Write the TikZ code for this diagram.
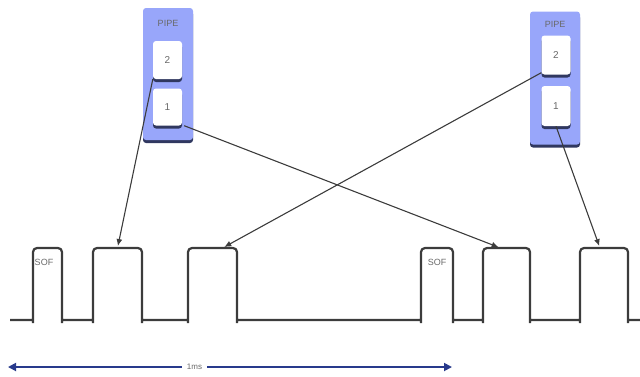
\documentclass[tikz,border=0pt]{standalone}
\usepackage{fontspec}
\setmainfont{Liberation Sans}
\usetikzlibrary{arrows.meta, shadows}
\definecolor{pipeblue}{RGB}{152,166,250}
\definecolor{pipeshade}{RGB}{48,56,96}
\definecolor{wavegray}{RGB}{60,60,60}
\definecolor{labelgray}{RGB}{105,105,105}
\definecolor{spanblue}{RGB}{40,58,140}

\begin{document}
\begin{tikzpicture}[x=1pt, y=-1pt,
    pipebox/.style={fill=pipeblue, rounded corners=3pt, minimum width=50pt,
      drop shadow={shadow xshift=0pt, shadow yshift=-3pt, fill=pipeshade, opacity=1}},
    slotbox/.style={fill=white, rounded corners=3pt, minimum width=29pt,
      font=\fontsize{10}{11}\selectfont, text=labelgray,
      drop shadow={shadow xshift=0pt, shadow yshift=-3pt, fill=pipeshade, opacity=1}},
    wave/.style={draw=wavegray, line width=2.2pt},
    link/.style={draw=wavegray, line width=1.1pt, -{Latex[length=7pt, width=6pt]}, shorten >=2pt},
    tag/.style={font=\fontsize{9}{10}\selectfont, text=labelgray}]
  \useasboundingbox (0,0) rectangle (640,376);

  % pipes
  \node[pipebox, minimum height=132pt] (pipeA) at (168,74) {};
  \node[tag] (pipeAlbl) at (168,23) {PIPE};
  \node[slotbox, minimum height=38pt] (slotA2) at (167.5,60) {2};
  \node[slotbox, minimum height=37pt] (slotA1) at (167.5,107) {1};

  \node[pipebox, minimum height=133pt] (pipeB) at (555,78) {};
  \node[tag] (pipeBlbl) at (555,24) {PIPE};
  \node[slotbox, minimum height=39pt] (slotB2) at (556,55) {2};
  \node[slotbox, minimum height=40pt] (slotB1) at (556,106) {1};

  % bus waveform
  \draw[wave] (10,320)
    \foreach \l/\r/\n in {33/62/sofA,93/142/pktA,188/237/pktB,421/453/sofB,483/530/pktC,580/628/pktD}{
      -- (\l,320) -- (\l,323) [rounded corners=4pt] -- (\l,248) -- coordinate[pos=.5] (\n) (\r,248)
      [sharp corners] -- (\r,323) -- (\r,320)
    } -- (642,320);
  \node[tag] (sofAlbl) at (44,262) {SOF};
  \node[tag] (sofBlbl) at (437,262) {SOF};

  % transfers
  \draw[link] (slotA2.south west) -- (pktA);
  \draw[link] ([xshift=2pt]slotA1.south east) -- ([xshift=-6pt]pktC);
  \draw[link] ([yshift=2pt]slotB2.south west) -- ([xshift=10pt]pktB);
  \draw[link] (slotB1.south) -- ([xshift=-4pt]pktD);

  % frame span
  \coordinate (spanL) at (8,367);
  \coordinate (spanR) at (452,367);
  \draw[spanblue, line width=1.8pt, {Triangle[length=8pt, width=8pt]}-{Triangle[length=8pt, width=8pt]}]
    (spanL) -- node[pos=.42, fill=white, text=labelgray, font=\fontsize{8}{9}\selectfont, inner xsep=5pt] (spanlbl) {1ms} (spanR);
\end{tikzpicture}
\end{document}
